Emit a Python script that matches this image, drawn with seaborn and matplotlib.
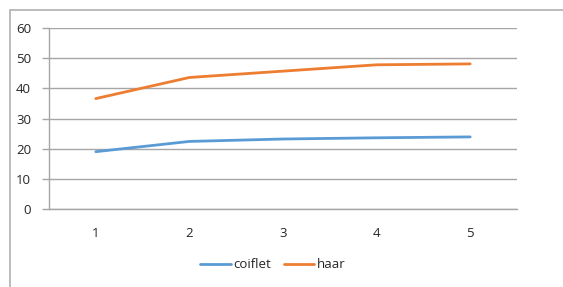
import pandas as pd
import matplotlib
matplotlib.use("Agg")
import matplotlib.pyplot as plt
import seaborn as sns
from matplotlib.patches import Rectangle

# ----------------------------------------------------
# Data
# ----------------------------------------------------

categories = ["1", "2", "3", "4", "5"]
coiflet = [19.0, 22.4, 23.2, 23.6, 23.9]
haar = [36.6, 43.6, 45.7, 47.8, 48.1]

df = pd.DataFrame({
    "pos": list(range(len(categories))) * 2,
    "value": coiflet + haar,
    "series": ["coiflet"] * len(coiflet) + ["haar"] * len(haar),
})

# ----------------------------------------------------
# Figure
# ----------------------------------------------------

sns.set_style("white")
plt.rcParams["font.family"] = ["Open Sans", "DejaVu Sans"]

fig = plt.figure(figsize=(5.63, 2.87), dpi=100)
ax = fig.add_axes([49 / 563, 1 - 209 / 287, 468 / 563, 181 / 287])

# outer chart border (cut off at right and bottom)
fig.patches.append(Rectangle(
    (10 / 563, -0.1), 1.2, 1.1 - 10 / 287,
    transform=fig.transFigure, fill=False,
    edgecolor="#b0b0b0", linewidth=1.2
))

sns.lineplot(
    data=df,
    x="pos",
    y="value",
    hue="series",
    palette={"coiflet": "#5b9bd5", "haar": "#ed7d31"},
    linewidth=2.0,
    ax=ax
)

ax.set_xlim(-0.5, len(categories) - 0.5)
ax.set_ylim(0, 60)
ax.set_yticks(range(0, 61, 10))
ax.set_xticks(range(len(categories)))
ax.set_xticklabels(categories)
ax.set_xticks([i - 0.5 for i in range(len(categories) + 1)], minor=True)
ax.set_xlabel("")
ax.set_ylabel("")

ax.grid(axis="y", color="#a6a6a6", linewidth=1.0)
ax.set_axisbelow(True)

for side in ["top", "right"]:
    ax.spines[side].set_visible(False)
for side in ["left", "bottom"]:
    ax.spines[side].set_color("#a6a6a6")
    ax.spines[side].set_linewidth(1.0)

ax.tick_params(axis="x", which="major", length=0, pad=13,
               labelsize=9.5, labelcolor="#262626")
ax.tick_params(axis="x", which="minor", length=5, color="#a6a6a6",
               width=1.0, direction="out")
ax.tick_params(axis="y", length=5, color="#a6a6a6", width=1.0,
               labelsize=9.5, labelcolor="#262626", pad=8, left=True)

ax.legend(
    loc="center",
    bbox_to_anchor=(273 / 563, 1 - 265 / 287),
    bbox_transform=fig.transFigure,
    ncol=2,
    frameon=False,
    fontsize=9.5,
    handlelength=2.3,
    handletextpad=0.2,
    columnspacing=1.0,
    labelcolor="#262626"
)

fig.savefig("out.png", dpi=100)
